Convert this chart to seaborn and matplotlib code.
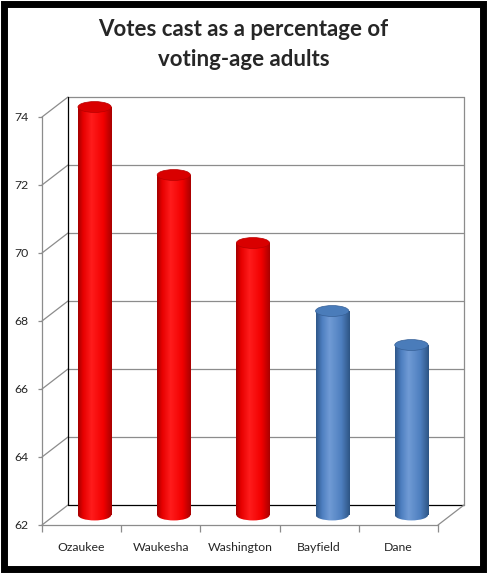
import numpy as np
import pandas as pd
import matplotlib
matplotlib.use('Agg')
import matplotlib.pyplot as plt
import seaborn as sns
from matplotlib.colors import LinearSegmentedColormap
from matplotlib.patches import Ellipse, Rectangle
from matplotlib.lines import Line2D

counties = ['Ozaukee', 'Waukesha', 'Washington', 'Bayfield', 'Dane']
turnout = [74, 72, 70, 68, 67]
lean = ['R', 'R', 'R', 'D', 'D']
y_ticks = [62, 64, 66, 68, 70, 72, 74]

df = pd.DataFrame({'county': counties, 'turnout': turnout, 'lean': lean})

sns.set_theme(style='white')
plt.rcParams['font.family'] = ['Lato', 'DejaVu Sans']

W, H = 487, 573
fig = plt.figure(figsize=(W / 100, H / 100), dpi=100)
fig.patch.set_facecolor('white')


def rect(x0, y_top, x1, y_bot):
    return [x0 / W, 1 - y_bot / H, (x1 - x0) / W, (y_bot - y_top) / H]


def to_fig(x, y):
    return x / W, 1 - y / H


def frame_line(p0, p1, color):
    fig.add_artist(Line2D(*zip(to_fig(*p0), to_fig(*p1)), color=color, lw=0.9, zorder=-1))


# 3D box geometry in pixels (front plane, depth offset)
fx0, fx1, fy_top, fy_bot = 42, 438, 117, 525
dx, dy = 26, -20
ppu = (fy_bot - fy_top) / (y_ticks[-1] - y_ticks[0])
grid_c = '#8c8c8c'

# back wall gridlines + side wall diagonals
for v in y_ticks:
    yf = fy_bot - (v - y_ticks[0]) * ppu
    frame_line((fx0 + dx, yf + dy), (fx1 + dx, yf + dy), 'black' if v == y_ticks[0] else grid_c)
    frame_line((fx0, yf), (fx0 + dx, yf + dy), grid_c)
# back wall verticals
frame_line((fx0 + dx, fy_top + dy), (fx0 + dx, fy_bot + dy), 'black')
frame_line((fx1 + dx, fy_top + dy), (fx1 + dx, fy_bot + dy), grid_c)
# floor right diagonal
frame_line((fx1, fy_bot), (fx1 + dx, fy_bot + dy), grid_c)

# front plane axes: ticks and labels
ax = fig.add_axes(rect(fx0, fy_top, fx1, fy_bot))
ax.patch.set_alpha(0)
ax.set_xlim(-0.5, len(counties) - 0.5)
ax.set_ylim(y_ticks[0], y_ticks[-1])
ax.set_yticks(y_ticks)
ax.set_xticks(range(len(counties)))
ax.set_xticklabels(counties, fontsize=8.8)
ax.tick_params(axis='y', labelsize=8.8, length=3, width=0.9, color=grid_c, left=True, pad=7)
ax.tick_params(axis='x', length=0, pad=12)
ax.set_xticks(np.arange(-0.5, len(counties)), minor=True)
ax.tick_params(axis='x', which='minor', length=5, width=0.9, color=grid_c, bottom=True)
for s in ['top', 'right']:
    ax.spines[s].set_visible(False)
for s in ['left', 'bottom']:
    ax.spines[s].set_color(grid_c)
    ax.spines[s].set_linewidth(0.9)
ax.set_xlabel('')
ax.set_ylabel('')

# cylinder axes at mid depth
lo, hi = y_ticks[0] - 0.5, y_ticks[-1] + 0.5
mx, my = fx0 + dx / 2, dy / 2
axb = fig.add_axes(rect(mx, fy_top + my - 0.5 * ppu, fx1 + dx / 2, fy_bot + my + 0.5 * ppu))
axb.patch.set_alpha(0)

bw = 0.42
sns.barplot(data=df, x='county', y='turnout', hue='lean', palette={'R': '#ff0000', 'D': '#4f81bd'},
            width=bw, dodge=False, legend=False, ax=axb)
axb.set_xlim(-0.5, len(counties) - 0.5)
axb.set_ylim(lo, hi)
axb.axis('off')

cmaps = {
    'R': LinearSegmentedColormap.from_list('cyl_r', [(0, '#a30000'), (0.15, '#e60000'), (0.4, '#ff1c1c'),
                                                     (0.75, '#f20000'), (1, '#a80000')]),
    'D': LinearSegmentedColormap.from_list('cyl_d', [(0, '#2e5688'), (0.18, '#4d7ec0'), (0.4, '#709bd5'),
                                                     (0.75, '#4e7fbf'), (1, '#2d5483')]),
}
tops = {'R': '#d90000', 'D': '#4a7cba'}
cap_h = 0.32
grad = np.linspace(0, 1, 256)[None, :]

bars = [p for p in axb.patches if p.get_height() > 0]
bars = sorted(bars, key=lambda p: p.get_x())
for p, val, party in zip(bars, turnout, lean):
    x0, w = p.get_x(), p.get_width()
    xc = x0 + w / 2
    p.set_y(y_ticks[0])
    p.set_height(val - y_ticks[0])
    p.set_visible(False)
    cm = cmaps[party]
    body = Rectangle((x0, y_ticks[0]), w, val - y_ticks[0], transform=axb.transData)
    im = axb.imshow(grad, cmap=cm, aspect='auto', extent=[x0, x0 + w, y_ticks[0], val], zorder=2)
    im.set_clip_path(body)
    base = Ellipse((xc, y_ticks[0]), w, cap_h, transform=axb.transData)
    im2 = axb.imshow(grad, cmap=cm, aspect='auto', extent=[x0, x0 + w, y_ticks[0] - cap_h, y_ticks[0]], zorder=2)
    im2.set_clip_path(base)
    axb.add_patch(Ellipse((xc, val), w, cap_h, facecolor=tops[party], edgecolor=cm(0.05), lw=0.5, zorder=3))
axb.set_xlim(-0.5, len(counties) - 0.5)
axb.set_ylim(lo, hi)

fig.text(0.5, 1 - 30 / H, 'Votes cast as a percentage of', ha='center', va='center',
         fontsize=16, fontweight='bold')
fig.text(0.5, 1 - 60 / H, 'voting-age adults', ha='center', va='center',
         fontsize=16, fontweight='bold')

# outer border
fig.add_artist(Rectangle((3.5 / W, 4.5 / H), (W - 8) / W, (H - 8.5) / H, transform=fig.transFigure,
                         fill=False, edgecolor='black', lw=5))

plt.savefig('out.png', dpi=100)
